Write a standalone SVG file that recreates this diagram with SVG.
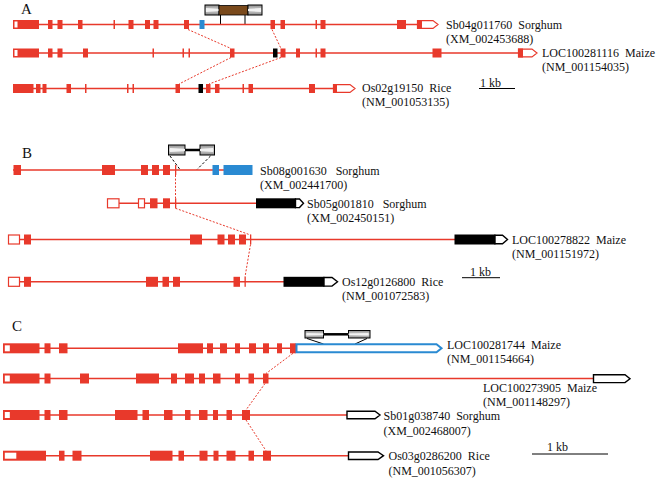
<svg xmlns="http://www.w3.org/2000/svg" width="661" height="478" viewBox="0 0 661 478">
<style>
.ln{stroke:#e8392b;stroke-width:1.4;fill:none}
.ex{fill:#e8392b}
.wh{fill:#fff}
.utr{fill:#fff;stroke:#e8392b;stroke-width:1.2}
.bl{fill:#2a8ad2}
.bk{fill:#000}
.pb{fill:#fff;stroke:#000;stroke-width:1.4}
.pbl{fill:#fff;stroke:#2a8ad2;stroke-width:2}
.conn{stroke:#e8392b;stroke-width:1;stroke-dasharray:2,1.6;fill:none}
.cap{fill:url(#g);stroke:#000;stroke-width:1}
.capw{fill:#f2f2f2}
.blk{stroke:#000;stroke-width:1;fill:none}
.dash{stroke:#000;stroke-width:1;stroke-dasharray:2.5,2;fill:none}
text{font-family:"Liberation Serif","Times New Roman",serif;font-size:12px;fill:#111;white-space:pre}
.pl{font-size:15px}
</style>
<defs>
<linearGradient id="g" x1="0" y1="0" x2="0" y2="1">
<stop offset="0" stop-color="#8a8a8a"/><stop offset="0.5" stop-color="#d8d8d8"/><stop offset="1" stop-color="#8a8a8a"/>
</linearGradient>
</defs>

<!-- panel labels -->
<text class="pl" x="21" y="14">A</text>
<text class="pl" x="22" y="158">B</text>
<text class="pl" x="12" y="331">C</text>

<g id="connectors">
<line class="conn" x1="188" y1="29.5" x2="231" y2="48.5"/>
<line class="conn" x1="272" y1="29.5" x2="281" y2="48.5"/>
<line class="conn" x1="231" y1="57.5" x2="179" y2="84"/>
<line class="conn" x1="281" y1="57.5" x2="209" y2="84"/>
<line class="conn" x1="175.5" y1="175" x2="175.5" y2="198.3"/>
<line class="conn" x1="175.5" y1="208.3" x2="250.5" y2="235"/>
<line class="conn" x1="250.5" y1="244.5" x2="245" y2="277"/>
<line class="conn" x1="293" y1="353.3" x2="266" y2="373.5"/>
<line class="conn" x1="265" y1="383.5" x2="246" y2="410"/>
<line class="conn" x1="246" y1="420" x2="266" y2="450.7"/>
</g>

<!-- Panel A -->
<g id="insetA">
<rect class="cap" x="205" y="5" width="14" height="10"/>
<polygon class="capw" points="206,8 206,12 219,11 219,9"/>
<rect x="219" y="5.5" width="29" height="9.5" fill="#7a4a1c" stroke="#000" stroke-width="0.8"/>
<rect class="cap" x="248" y="5" width="14" height="10"/>
<polygon class="capw" points="261,8 261,12 248,11 248,9"/>
<line class="blk" x1="220.5" y1="15" x2="220.5" y2="24"/>
<line class="blk" x1="245" y1="15" x2="245" y2="24"/>
</g>

<g id="geneA1">
<line class="ln" x1="13" y1="24.5" x2="418" y2="24.5"/>
<rect class="ex" x="13" y="20" width="26" height="9"/><rect class="wh" x="14.5" y="21.5" width="3" height="6"/>
<rect class="ex" x="48" y="20" width="4.5" height="9"/>
<rect class="ex" x="57.5" y="20" width="5" height="9"/>
<rect class="ex" x="78" y="20" width="4.5" height="9"/>
<rect class="ex" x="113.5" y="20" width="1.5" height="9"/>
<rect class="ex" x="128.5" y="20" width="5" height="9"/>
<rect class="ex" x="145" y="20" width="5" height="9"/>
<rect class="ex" x="153.5" y="20" width="5" height="9"/>
<rect class="ex" x="184" y="20" width="5" height="9"/>
<rect class="bl" x="199.5" y="20" width="5" height="9"/>
<rect class="ex" x="270.5" y="20" width="4.5" height="9"/>
<rect class="ex" x="280.5" y="20" width="4.5" height="9"/>
<rect class="ex" x="315.5" y="20" width="1.5" height="9"/>
<rect class="ex" x="320.5" y="20" width="5" height="9"/>
<rect class="ex" x="397" y="20" width="9" height="9"/>
<polygon class="utr" points="417.5,20.6 433,20.6 438,24.5 433,28.4 417.5,28.4"/>
<rect class="ex" x="417" y="20" width="5" height="9"/>
<text x="446" y="29">Sb04g011760  Sorghum</text>
<text x="446" y="43">(XM_002453688)</text>
</g>

<g id="geneA2">
<line class="ln" x1="13" y1="53" x2="518" y2="53"/>
<rect class="ex" x="13" y="48.5" width="26" height="9"/><rect class="wh" x="14.5" y="50" width="3" height="6"/>
<rect class="ex" x="48" y="48.5" width="4.5" height="9"/>
<rect class="ex" x="57.5" y="48.5" width="5" height="9"/>
<rect class="ex" x="83" y="48.5" width="5" height="9"/>
<rect class="ex" x="152.5" y="48.5" width="1.5" height="9"/>
<rect class="ex" x="182.5" y="48.5" width="1.5" height="9"/>
<rect class="ex" x="188.5" y="48.5" width="1.5" height="9"/>
<rect class="ex" x="230" y="48.5" width="4.5" height="9"/>
<rect class="bk" x="273" y="48.5" width="4.5" height="9"/>
<rect class="ex" x="280.5" y="48.5" width="5" height="9"/>
<rect class="ex" x="296" y="48.5" width="4" height="9"/>
<rect class="ex" x="315.5" y="48.5" width="1.5" height="9"/>
<rect class="ex" x="320.5" y="48.5" width="5" height="9"/>
<rect class="ex" x="432.5" y="48.5" width="9" height="9"/>
<polygon class="utr" points="518.5,49.1 532,49.1 537,53 532,56.9 518.5,56.9"/>
<rect class="ex" x="518" y="48.5" width="5" height="9"/>
<text x="542" y="57">LOC100281116  Maize</text>
<text x="542" y="71">(NM_001154035)</text>
</g>

<g id="geneA3">
<line class="ln" x1="13" y1="88.5" x2="333" y2="88.5"/>
<rect class="ex" x="13" y="84" width="20.5" height="9"/>
<rect class="ex" x="36" y="84" width="4.5" height="9"/>
<rect class="ex" x="42.5" y="84" width="4" height="9"/>
<rect class="ex" x="66.5" y="84" width="4.5" height="9"/>
<rect class="ex" x="85" y="84" width="1.5" height="9"/>
<rect class="ex" x="127" y="84" width="1.5" height="9"/>
<rect class="ex" x="132.5" y="84" width="1.5" height="9"/>
<rect class="ex" x="175.5" y="84" width="4.5" height="9"/>
<rect class="bk" x="198.5" y="84" width="4.5" height="9"/>
<rect class="ex" x="206" y="84" width="4.5" height="9"/>
<rect class="ex" x="215" y="84" width="4.5" height="9"/>
<rect class="ex" x="242.5" y="84" width="1.5" height="9"/>
<rect class="ex" x="248.5" y="84" width="4.5" height="9"/>
<rect class="ex" x="309" y="84" width="6" height="9"/>
<polygon class="utr" points="333.5,84.6 350,84.6 355,88.5 350,92.4 333.5,92.4"/>
<rect class="ex" x="333" y="84" width="4" height="9"/>
<text x="362" y="92">Os02g19150  Rice</text>
<text x="362" y="106">(NM_001053135)</text>
</g>

<g id="scaleA">
<line class="blk" x1="479" y1="88.5" x2="515" y2="88.5"/>
<text x="480" y="87">1 kb</text>
</g>

<!-- Panel B -->
<g id="insetB">
<rect class="cap" x="168.5" y="145" width="16.5" height="10"/>
<polygon class="capw" points="170,148 170,152 185,151 185,149"/>
<line x1="185" y1="150" x2="200" y2="150" stroke="#000" stroke-width="2.5"/>
<rect class="cap" x="200" y="145" width="14.5" height="10"/>
<polygon class="capw" points="213,148 213,152 200,151 200,149"/>
<line class="dash" x1="170" y1="156" x2="180" y2="169.5"/>
<line class="dash" x1="210.5" y1="156" x2="197" y2="169.5"/>
</g>

<g id="geneB1">
<line class="ln" x1="13" y1="170" x2="252" y2="170"/>
<rect class="ex" x="13.5" y="165" width="7.5" height="10"/>
<rect class="ex" x="102" y="165" width="13" height="10"/>
<rect class="ex" x="141" y="165" width="7" height="10"/>
<rect class="ex" x="152" y="165" width="7" height="10"/>
<rect class="ex" x="163" y="165" width="7" height="10"/>
<rect class="ex" x="175" y="165" width="1.3" height="10"/>
<rect class="bl" x="212.5" y="165" width="6.5" height="10"/>
<rect class="bl" x="223.5" y="165" width="29" height="10"/>
<text x="260" y="175">Sb08g001630   Sorghum</text>
<text x="260" y="189">(XM_002441700)</text>
</g>

<g id="geneB2">
<line class="ln" x1="119" y1="203.3" x2="256" y2="203.3"/>
<rect class="utr" x="107.5" y="198.8" width="11.5" height="9"/>
<rect class="utr" x="138.5" y="198.8" width="6" height="9"/>
<rect class="ex" x="150" y="198.3" width="7.5" height="10"/>
<rect class="ex" x="163" y="198.3" width="7" height="10"/>
<rect class="ex" x="175" y="198.3" width="1.3" height="10"/>
<rect class="bk" x="256" y="198.3" width="40" height="10"/>
<polygon class="pb" points="295.5,199 299.5,199 303.5,203.3 299.5,207.6 295.5,207.6"/>
<text x="307" y="208">Sb05g001810   Sorghum</text>
<text x="307" y="222">(XM_002450151)</text>
</g>

<g id="geneB3">
<line class="ln" x1="19.5" y1="239.5" x2="455" y2="239.5"/>
<rect class="utr" x="8.5" y="235" width="11" height="9"/>
<rect class="ex" x="24" y="234.5" width="7" height="10"/>
<rect class="ex" x="190" y="234.5" width="12" height="10"/>
<rect class="ex" x="217.5" y="234.5" width="7" height="10"/>
<rect class="ex" x="228" y="234.5" width="7" height="10"/>
<rect class="ex" x="239" y="234.5" width="7" height="10"/>
<rect class="ex" x="250" y="234.5" width="1.3" height="10"/>
<rect class="bk" x="454.5" y="234.5" width="41" height="10"/>
<polygon class="pb" points="495,235.2 502.5,235.2 507.5,239.5 502.5,243.8 495,243.8"/>
<text x="512" y="244">LOC100278822  Maize</text>
<text x="512" y="258">(NM_001151972)</text>
</g>

<g id="geneB4">
<line class="ln" x1="19.5" y1="281.8" x2="284" y2="281.8"/>
<rect class="utr" x="8.5" y="277.3" width="11" height="9"/>
<rect class="ex" x="24" y="276.8" width="7" height="10"/>
<rect class="ex" x="146" y="276.8" width="12" height="10"/>
<rect class="ex" x="162.5" y="276.8" width="6.5" height="10"/>
<rect class="ex" x="173" y="276.8" width="7" height="10"/>
<rect class="ex" x="233.5" y="276.8" width="6.5" height="10"/>
<rect class="ex" x="244.5" y="276.8" width="1.3" height="10"/>
<rect class="bk" x="283.5" y="276.8" width="41" height="10"/>
<polygon class="pb" points="324,277.5 332,277.5 337.5,281.8 332,286.1 324,286.1"/>
<text x="342" y="286">Os12g0126800  Rice</text>
<text x="342" y="300">(NM_001072583)</text>
</g>

<g id="scaleB">
<line class="blk" x1="462" y1="277.7" x2="500" y2="277.7"/>
<text x="470" y="276">1 kb</text>
</g>

<!-- Panel C -->
<g id="insetC">
<rect class="cap" x="305" y="330.5" width="18.5" height="7.5"/>
<polygon class="capw" points="306.5,333 306.5,335.5 323.5,335 323.5,333.6"/>
<line x1="323.5" y1="334.3" x2="348.5" y2="334.3" stroke="#000" stroke-width="2.5"/>
<rect class="cap" x="348.5" y="330.5" width="21.5" height="7.5"/>
<polygon class="capw" points="368.5,333 368.5,335.5 348.5,335 348.5,333.6"/>
<line class="blk" x1="307" y1="338.5" x2="323.5" y2="344"/>
<line class="blk" x1="367" y1="338.5" x2="355" y2="344"/>
</g>

<g id="geneC1">
<line class="ln" x1="3" y1="348.3" x2="296" y2="348.3"/>
<rect class="ex" x="3" y="343.3" width="36.5" height="10"/><rect class="wh" x="4.8" y="345.3" width="5" height="6"/>
<rect class="ex" x="44.5" y="343.3" width="6" height="10"/>
<rect class="ex" x="59" y="343.3" width="8.5" height="10"/>
<rect class="ex" x="178" y="343.3" width="25" height="10"/>
<rect class="ex" x="207" y="343.3" width="6" height="10"/>
<rect class="ex" x="220" y="343.3" width="7" height="10"/>
<rect class="ex" x="235" y="343.3" width="5" height="10"/>
<rect class="ex" x="249" y="343.3" width="7" height="10"/>
<rect class="ex" x="263" y="343.3" width="6" height="10"/>
<rect class="ex" x="277" y="343.3" width="5" height="10"/>
<rect class="ex" x="290" y="343.3" width="6" height="10"/>
<polygon class="pbl" points="296.5,344.3 436.5,344.3 441.5,348.3 436.5,352.3 296.5,352.3"/>
<text x="447" y="349">LOC100281744  Maize</text>
<text x="447" y="363">(NM_001154664)</text>
</g>

<g id="geneC2">
<line class="ln" x1="3" y1="378.5" x2="593.5" y2="378.5"/>
<rect class="ex" x="3" y="373.5" width="36.5" height="10"/><rect class="wh" x="4.8" y="375.5" width="5" height="6"/>
<rect class="ex" x="44.5" y="373.5" width="6" height="10"/>
<rect class="ex" x="80" y="373.5" width="9" height="10"/>
<rect class="ex" x="136" y="373.5" width="23" height="10"/>
<rect class="ex" x="171" y="373.5" width="6" height="10"/>
<rect class="ex" x="185" y="373.5" width="9" height="10"/>
<rect class="ex" x="199" y="373.5" width="6" height="10"/>
<rect class="ex" x="213" y="373.5" width="7.5" height="10"/>
<rect class="ex" x="235" y="373.5" width="5" height="10"/>
<rect class="ex" x="248.5" y="373.5" width="5.5" height="10"/>
<rect class="ex" x="263" y="373.5" width="5.5" height="10"/>
<polygon class="pb" points="593.5,374.8 625,374.8 630,378.7 625,382.6 593.5,382.6"/>
<text x="483" y="392">LOC100273905  Maize</text>
<text x="483" y="406">(NM_001148297)</text>
</g>

<g id="geneC3">
<line class="ln" x1="3" y1="415" x2="347" y2="415"/>
<rect class="ex" x="3" y="410" width="36.5" height="10"/><rect class="wh" x="4.8" y="412" width="5" height="6"/>
<rect class="ex" x="44.5" y="410" width="6" height="10"/>
<rect class="ex" x="59" y="410" width="8.5" height="10"/>
<rect class="ex" x="115" y="410" width="22.5" height="10"/>
<rect class="ex" x="142.5" y="410" width="6.5" height="10"/>
<rect class="ex" x="164" y="410" width="8.5" height="10"/>
<rect class="ex" x="185" y="410" width="5.5" height="10"/>
<rect class="ex" x="199" y="410" width="8.5" height="10"/>
<rect class="ex" x="213" y="410" width="5" height="10"/>
<rect class="ex" x="226.5" y="410" width="5.5" height="10"/>
<rect class="ex" x="242" y="410" width="8" height="10"/>
<polygon class="pb" points="347,411.2 375,411.2 380,415 375,418.8 347,418.8"/>
<text x="383.5" y="420">Sb01g038740  Sorghum</text>
<text x="383.5" y="435">(XM_002468007)</text>
</g>

<g id="geneC4">
<line class="ln" x1="3" y1="455.7" x2="348.5" y2="455.7"/>
<rect class="ex" x="3" y="450.7" width="43" height="10"/><rect class="wh" x="4.8" y="452.7" width="11.5" height="6"/>
<rect class="ex" x="59" y="450.7" width="5.5" height="10"/>
<rect class="ex" x="72.5" y="450.7" width="9" height="10"/>
<rect class="ex" x="150" y="450.7" width="22.5" height="10"/>
<rect class="ex" x="178.5" y="450.7" width="5.5" height="10"/>
<rect class="ex" x="199.5" y="450.7" width="8" height="10"/>
<rect class="ex" x="213.5" y="450.7" width="5" height="10"/>
<rect class="ex" x="226.5" y="450.7" width="9" height="10"/>
<rect class="ex" x="248.5" y="450.7" width="5.5" height="10"/>
<rect class="ex" x="263" y="450.7" width="8" height="10"/>
<polygon class="pb" points="348.5,452 378,452 383.5,455.7 378,459.5 348.5,459.5"/>
<text x="388.5" y="460">Os03g0286200  Rice</text>
<text x="388.5" y="475">(NM_001056307)</text>
</g>

<g id="scaleC">
<line class="blk" x1="532" y1="454" x2="608" y2="454"/>
<text x="547" y="451">1 kb</text>
</g>
</svg>
